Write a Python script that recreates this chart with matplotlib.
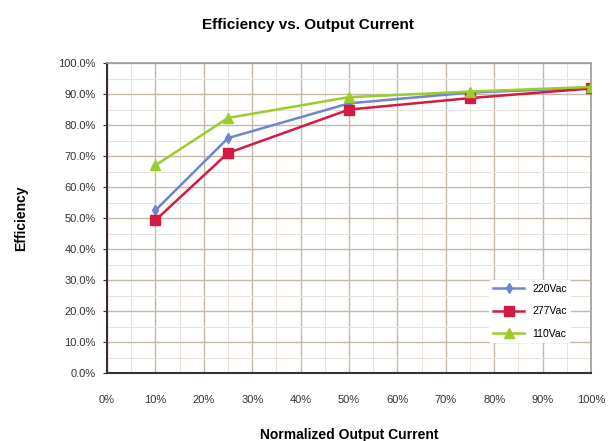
import matplotlib
matplotlib.use("Agg")
from matplotlib import pyplot as plt
from matplotlib.ticker import MultipleLocator, FuncFormatter

# Load fraction (%) and efficiency (%)
load_pct = [10, 25, 50, 75, 100]
eff_220 = [52.5, 75.8, 87.0, 90.5, 92.0]
eff_277 = [49.3, 71.0, 85.0, 88.7, 91.8]
eff_110 = [67.0, 82.3, 89.0, 90.8, 92.3]
series_labels = ["220Vac", "277Vac", "110Vac"]

plt.rcParams['font.family'] = ['Liberation Sans', 'DejaVu Sans']

fig = plt.figure(figsize=(6.15, 4.41), dpi=100)
ax = fig.add_axes([0.174, 0.154, 0.787, 0.703])

ax.plot(load_pct, eff_220, color='#6d86cf', marker='d', markersize=5, linewidth=1.8, label=series_labels[0], zorder=3)
ax.plot(load_pct, eff_277, color='#d41a42', marker='s', markersize=7, linewidth=1.8, label=series_labels[1], zorder=3)
ax.plot(load_pct, eff_110, color='#9ccc2c', marker='^', markersize=7, linewidth=1.8, label=series_labels[2], zorder=4)

ax.set_xlim(0, 100)
ax.set_ylim(0, 100)
ax.xaxis.set_major_locator(MultipleLocator(10))
ax.yaxis.set_major_locator(MultipleLocator(10))
ax.xaxis.set_minor_locator(MultipleLocator(5))
ax.yaxis.set_minor_locator(MultipleLocator(5))
ax.xaxis.set_major_formatter(FuncFormatter(lambda v, p: f"{v:.0f}%"))
ax.yaxis.set_major_formatter(FuncFormatter(lambda v, p: f"{v:.1f}%"))

ax.grid(which='major', color='#c4b8a8', linewidth=1.0)
ax.grid(which='minor', color='#e8e2da', linewidth=0.7)
ax.set_axisbelow(True)

ax.tick_params(axis='both', which='major', labelsize=8, length=3, colors='#333333')
ax.tick_params(axis='x', which='major', length=0, pad=16)
ax.tick_params(axis='y', which='major', pad=5)
ax.tick_params(which='minor', length=0)
for side in ['left', 'bottom']:
    ax.spines[side].set_color('#3a2e2e')
    ax.spines[side].set_linewidth(1.5)
for side in ['right', 'top']:
    ax.spines[side].set_color('#a09a96')
    ax.spines[side].set_linewidth(1.2)

ax.set_xlabel('Normalized Output Current', fontsize=10, fontweight='bold', labelpad=16)
ax.set_ylabel('Efficiency', fontsize=10, fontweight='bold', labelpad=22)
fig.suptitle('Efficiency vs. Output Current', fontsize=11, fontweight='bold', y=0.96)

leg = ax.legend(loc='lower right', bbox_to_anchor=(0.97, 0.08), fontsize=7.5,
                frameon=True, facecolor='white', edgecolor='none', framealpha=1,
                handlelength=3, labelspacing=1.2)

plt.savefig("out.png", dpi=100)
